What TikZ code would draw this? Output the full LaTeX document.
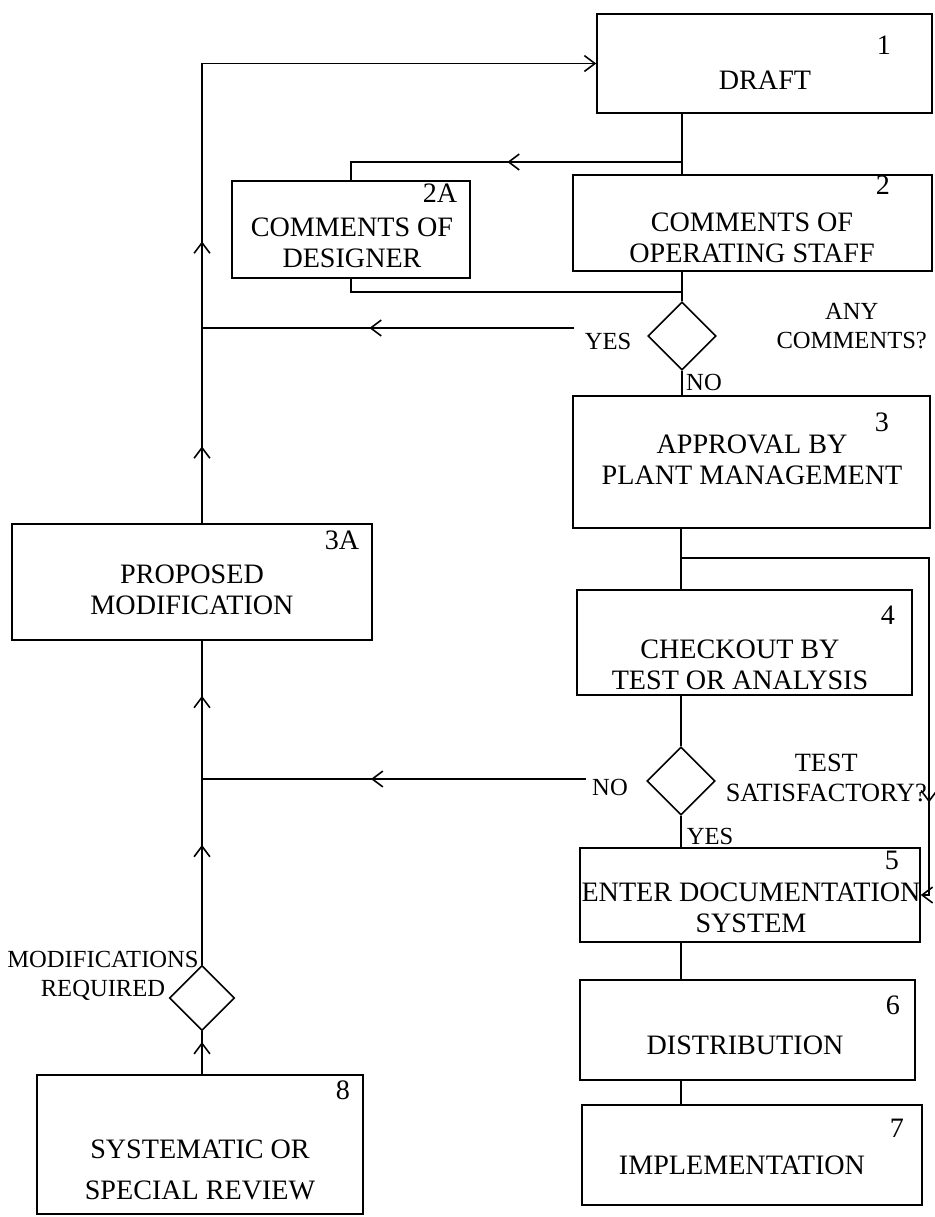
\documentclass[tikz,border=0pt]{standalone}
\usepackage{fontspec}
\setmainfont{Liberation Serif}
\usetikzlibrary{arrows.meta, calc, positioning, shapes.geometric, decorations.markings}

\tikzset{
    barb/.tip={Straight Barb[length=6pt, width=9pt]},
    box/.style 2 args={draw, line width=0.9pt, minimum width=#1, minimum height=#2, inner sep=0pt},
    txt/.style={font=\fontsize{16}{17.5}\selectfont, align=center, inner sep=1pt},
    lbl/.style={font=\fontsize{14}{16.5}\selectfont, align=center, inner sep=1pt},
    num/.style={font=\fontsize{16}{17}\selectfont, inner sep=0pt},
    decision/.style={draw, diamond, aspect=1, line width=0.9pt, minimum width=1.36cm, minimum height=1.36cm, inner sep=0pt},
    flow/.style={line width=0.9pt},
    arrowat/.style={postaction={decorate, decoration={markings, mark=at position #1 with {\arrow{barb}}}}},
}

\begin{document}
\begin{tikzpicture}[x=0.02cm, y=-0.02cm]
    \useasboundingbox (0,0) rectangle (935,1217);

    % Boxes
    \node[box={6.7cm}{1.98cm}] (b1) at (764.5,63.5) {};
    \node[box={4.76cm}{1.94cm}] (b2a) at (351,229.5) {};
    \node[box={7.18cm}{1.92cm}] (b2) at (752.5,223) {};
    \node[box={7.14cm}{2.64cm}] (b3) at (751.5,462) {};
    \node[box={7.2cm}{2.32cm}] (b3a) at (192,582) {};
    \node[box={6.7cm}{2.1cm}] (b4) at (744.5,642.5) {};
    \node[box={6.8cm}{1.88cm}] (b5) at (750,895) {};
    \node[box={6.7cm}{2cm}] (b6) at (747.5,1030) {};
    \node[box={6.8cm}{2cm}] (b7) at (752,1155) {};
    \node[box={6.52cm}{2.78cm}] (b8) at (200,1144.5) {};

    % Decisions
    \node[decision] (d1) at (682,336) {};
    \node[decision] (d2) at (681,781) {};
    \node[decision, minimum width=1.3cm, minimum height=1.3cm] (d3) at (202,998) {};

    % Box texts
    \node[txt] (t1) at (765,80) {DRAFT};
    \node[txt] (t2a) at (352,243) {COMMENTS OF\\DESIGNER};
    \node[txt] (t2) at (752,238) {COMMENTS OF\\OPERATING STAFF};
    \node[txt] (t3) at (752,460) {APPROVAL BY\\PLANT MANAGEMENT};
    \node[txt] (t3a) at (192,590) {PROPOSED\\MODIFICATION};
    \node[txt] (t4) at (740,665) {CHECKOUT BY\\TEST OR ANALYSIS};
    \node[txt] (t5) at (751,908) {ENTER DOCUMENTATION\\SYSTEM};
    \node[txt] (t6) at (745,1045) {DISTRIBUTION};
    \node[txt] (t7) at (742,1165) {IMPLEMENTATION};
    \node[txt, font=\fontsize{16}{23}\selectfont] (t8) at (200,1170) {SYSTEMATIC OR\\SPECIAL REVIEW};

    % Box numbers
    \node[num] (n1) at (884,45) {1};
    \node[num] (n2) at (883,185) {2};
    \node[num] (n2a) at (440,193) {2A};
    \node[num] (n3) at (882,422) {3};
    \node[num] (n3a) at (342,540) {3A};
    \node[num] (n4) at (888,615) {4};
    \node[num] (n5) at (892,860) {5};
    \node[num] (n6) at (893,1005) {6};
    \node[num] (n7) at (897,1128) {7};
    \node[num] (n8) at (343,1090) {8};

    % Decision labels
    \node[lbl] (yes1) at (608,341) {YES};
    \node[lbl, anchor=east] (any) at (929,326) {ANY\\COMMENTS?};
    \node[lbl] (no1) at (704,382) {NO};
    \node[lbl] (no2) at (610,787) {NO};
    \node[txt, font=\fontsize{15}{17}\selectfont, anchor=east] (test) at (929,778) {TEST\\SATISFACTORY?};
    \node[lbl] (yes2) at (710,836) {YES};
    \node[lbl] (modreq) at (103,976) {MODIFICATIONS\\REQUIRED};

    % Right column
    \draw[flow] (b1.south -| d1) -- (b2.north -| d1);
    \draw[flow, arrowat=0.5] (d1 |- 0,162) -| (b2a.north);
    \draw[flow] (b2a.south) |- (d1 |- 0,292);
    \draw[flow] (b2.south -| d1) -- (d1.north);
    \draw[flow] (d1.south) -- (b3.north -| d1);
    \draw[flow] (b3.south -| d2) -- (b4.north -| d2);
    \draw[flow] (b4.south -| d2) -- (d2.north);
    \draw[flow] (d2.south) -- (b5.north -| d2);
    \draw[flow] (b5.south -| d2) -- (b6.north -| d2);
    \draw[flow] (b6.south -| d2) -- (b7.north -| d2);

    % Bypass to documentation
    \coordinate (loop) at (929,558);
    \draw[flow, arrowat=0.83, -{barb}] (d2 |- loop) -- (loop) |- (b5.east);

    % Returns to the left
    \coordinate (ret1) at (574,328);
    \coordinate (ret2) at (586,779);
    \draw[flow, arrowat=0.55] (ret1) -- (ret1 -| d3);
    \draw[flow, arrowat=0.56] (ret2) -- (ret2 -| d3);

    % Left column
    \draw[flow, arrowat=0.09, arrowat=0.33, -{barb}] (b3a.north -| d3) |- (b1.west);
    \draw[flow, arrowat=0.37, arrowat=0.83] (d3.north) -- (b3a.south -| d3);
    \draw[flow, arrowat=0.75] (b8.north -| d3) -- (d3.south);

\end{tikzpicture}
\end{document}
